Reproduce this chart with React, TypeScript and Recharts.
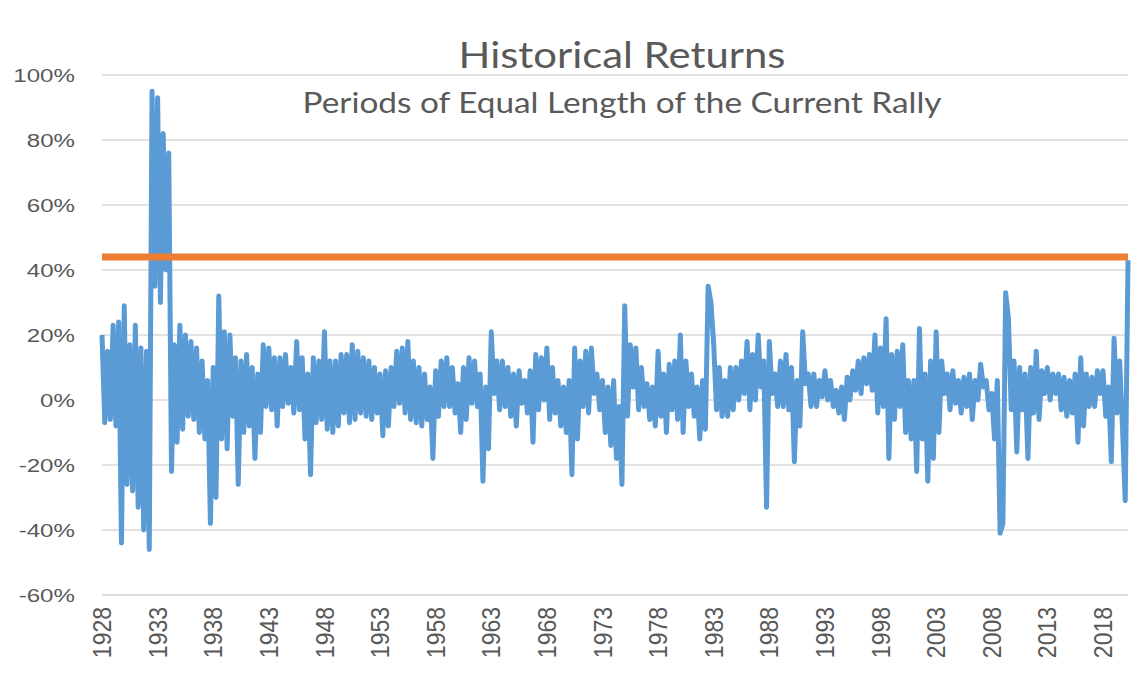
import React from 'react';
import { LineChart, Line, XAxis, YAxis, CartesianGrid, ReferenceLine } from 'recharts';

// returns (%) for periods of equal length to the current rally, one value per quarter
const START_YEAR = 1928;
const CURRENT_RALLY = 44;
const Y_TICKS = [-60, -40, -20, 0, 20, 40, 60, 80, 100];

const returns1920s = [
  20, -7, 15, -6,
  23, -8, 24, -44,
];
const returns1930s = [
  29, -26, 17, -28,
  23, -33, 16, -40,
  15, -46, 95, 35,
  93, 30, 82, 40,
  76, -22, 17, -13,
  23, -9, 20, -5,
  18, -6, 16, -10,
  12, -12, 6, -38,
  10, -30, 32, -12,
  21, -15, 20, -5,
];
const returns1940s = [
  13, -26, 12, -10,
  14, -8, 10, -18,
  8, -10, 17, -2,
  16, -3, 13, -8,
  13, -2, 14, -1,
  10, -4, 18, -3,
  13, -12, 8, -23,
  13, -7, 12, -6,
  21, -9, 12, -10,
  12, -8, 14, -4,
];
const returns1950s = [
  14, -7, 17, -6,
  15, -4, 13, -5,
  12, -6, 10, -4,
  8, -11, 9, -8,
  10, -2, 15, -1,
  16, -4, 18, -6,
  12, -7, 10, -8,
  8, -6, 4, -18,
  9, -5, 12, -2,
  13, -2, 10, -4,
];
const returns1960s = [
  5, -10, 10, -6,
  13, -1, 12, -2,
  8, -25, 4, -15,
  21, 2, 12, -3,
  12, -2, 10, -5,
  8, -8, 9, -1,
  6, -4, 9, -13,
  14, -3, 13, 0,
  16, -6, 10, -4,
  6, -8, 4, -10,
];
const returns1970s = [
  6, -23, 16, -12,
  12, -2, 15, -4,
  16, 2, 8, -3,
  6, -10, 4, -14,
  6, -18, -2, -26,
  29, -5, 17, 4,
  16, -3, 10, -2,
  5, -6, 4, -8,
  15, -5, 8, -10,
  11, -3, 12, -6,
];
const returns1980s = [
  20, -10, 12, -2,
  8, -5, 4, -12,
  6, -9, 35, 30,
  17, -3, 10, -5,
  6, -5, 10, -3,
  10, 0, 12, 2,
  18, -3, 14, 0,
  20, 4, 12, -33,
  18, 2, 8, -2,
  12, -2, 14, -3,
];
const returns1990s = [
  10, -19, 6, -8,
  21, 5, 8, -2,
  8, -2, 6, 1,
  9, 0, 6, -2,
  3, -4, 4, -6,
  7, 0, 9, 3,
  12, 2, 13, 5,
  14, 3, 20, -4,
  16, -2, 25, -18,
  14, -6, 15, -2,
];
const returns2000s = [
  17, -10, 6, -12,
  6, -22, 22, -12,
  8, -25, 12, -18,
  21, -10, 12, 2,
  8, -3, 9, -1,
  6, -4, 7, -2,
  8, -6, 6, 0,
  11, 4, 6, -3,
  2, -12, 6, -41,
  -38, 33, 25, -3,
];
const returns2010s = [
  12, -16, 10, -3,
  8, -18, 10, -4,
  15, -6, 9, 2,
  10, 0, 8, 2,
  8, -3, 7, -5,
  6, -4, 8, -13,
  13, -8, 8, -2,
  7, -2, 9, 2,
  9, -5, 4, -19,
  19, -4, 12, -8,
];
const returns2020s = [-31, 43];

const returns = [
  ...returns1920s, ...returns1930s, ...returns1940s, ...returns1950s, ...returns1960s,
  ...returns1970s, ...returns1980s, ...returns1990s, ...returns2000s, ...returns2010s,
  ...returns2020s,
];

const data = returns.map((value, i) => ({
  period: `${START_YEAR + Math.floor(i / 4)} Q${(i % 4) + 1}`,
  value,
}));

const TEXT = '#595959';
const TICK_FONT = "'Liberation Sans', Arial, sans-serif";

const PctTick = (props: any) => {
  const { x, y, payload } = props;
  return (
    <g transform={`translate(${x - 27},${y}) scale(1.27,1)`}>
      <text textAnchor="end" dominantBaseline="central" fill={TEXT} fontSize={19} fontFamily={TICK_FONT}>
        {payload.value}%
      </text>
    </g>
  );
};

const YearTick = (props: any) => {
  const { x, y, payload } = props;
  return (
    <g transform={`translate(${x},${y + 12}) scale(1.15,1) rotate(-90)`}>
      <text textAnchor="end" dominantBaseline="central" fill={TEXT} fontSize={23} fontFamily={TICK_FONT}>
        {String(payload.value).slice(0, 4)}
      </text>
    </g>
  );
};

const App: React.FC = () => {
  return (
    <div style={{ position: 'absolute', left: 0, top: 0, width: 1136, height: 687, background: '#fff' }}>
      <LineChart width={1136} height={687} data={data} margin={{ top: 75, right: 8, bottom: 0, left: 0 }}>
        <CartesianGrid vertical={false} stroke="#D9D9D9" strokeWidth={1.5} />
        <XAxis
          dataKey="period"
          interval={19}
          height={92}
          tickSize={0}
          tickMargin={0}
          tickLine={false}
          axisLine={{ stroke: '#D9D9D9', strokeWidth: 1.5 }}
          tick={<YearTick />}
        />
        <YAxis
          domain={[-60, 100]}
          ticks={Y_TICKS}
          width={102}
          tickSize={0}
          tickMargin={0}
          tickLine={false}
          axisLine={false}
          tick={<PctTick />}
        />
        <Line
          type="linear"
          dataKey="value"
          stroke="#5B9BD5"
          strokeWidth={5}
          strokeLinejoin="round"
          dot={false}
          isAnimationActive={false}
        />
        <ReferenceLine y={CURRENT_RALLY} stroke="#ED7D31" strokeWidth={7} />
      </LineChart>
      <svg width={1136} height={130} style={{ position: 'absolute', left: 0, top: 0, pointerEvents: 'none' }}>
        <text x={622} y={68} textAnchor="middle" fill={TEXT} fontSize={37} fontFamily="Lato, 'Open Sans', sans-serif" textLength={327} lengthAdjust="spacingAndGlyphs">
          Historical Returns
        </text>
        <text x={622} y={113} textAnchor="middle" fill={TEXT} fontSize={28} fontFamily="Lato, 'Open Sans', sans-serif" textLength={639} lengthAdjust="spacingAndGlyphs">
          Periods of Equal Length of the Current Rally
        </text>
      </svg>
    </div>
  );
};

export default App;
